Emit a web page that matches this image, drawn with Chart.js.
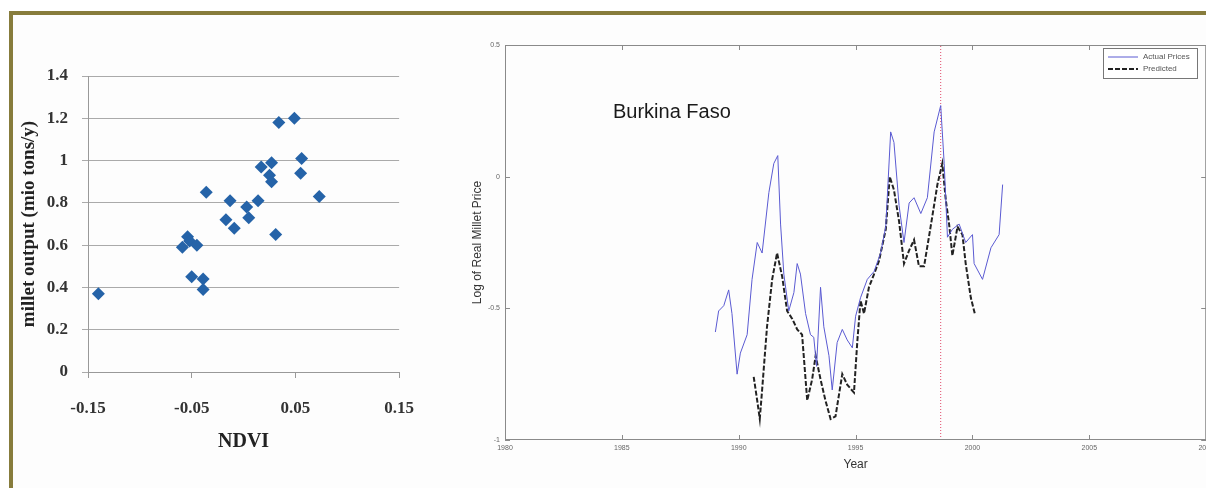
<!DOCTYPE html>
<html>
<head>
<meta charset="utf-8">
<script src="https://cdn.jsdelivr.net/npm/chart.js@4.4.1/dist/chart.umd.min.js"></script>
<style>
  html, body { margin: 0; padding: 0; background: #fff; }
  #page { position: relative; width: 1206px; height: 488px; overflow: hidden; background: #fff; }
  #frame { position: absolute; left: 9px; top: 11px; right: -10px; bottom: -10px;
           border-top: 4px solid #877c3c; border-left: 4px solid #877c3c; background: #fdfdfd; }
  #scatterBox { position: absolute; left: 14px; top: 16px; width: 420px; height: 460px; }
  #priceBox { position: absolute; left: 460px; top: 20px; width: 758px; height: 460px; }
  #country { position: absolute; left: 613px; top: 100px; font: 20px 'Liberation Sans', Arial, sans-serif; color: #1a1a1a; }
</style>
</head>
<body>
<div id="page">
  <div id="frame"></div>
  <div id="scatterBox"><canvas id="scatterChart"></canvas></div>
  <div id="priceBox"><canvas id="priceChart"></canvas></div>
  <div id="country">Burkina Faso</div>
</div>
<script>
// --- scatter: NDVI anomaly vs millet output ---
const ndvi = [-0.140, -0.059, -0.054, -0.052, -0.045, -0.050, -0.039, -0.039, -0.036, -0.017,
              -0.013, -0.009, 0.003, 0.005, 0.014, 0.017, 0.025, 0.027, 0.027, 0.031,
              0.034, 0.049, 0.056, 0.055, 0.073];
const milletOutput = [0.37, 0.59, 0.64, 0.62, 0.60, 0.45, 0.44, 0.39, 0.85, 0.72,
                      0.81, 0.68, 0.78, 0.73, 0.81, 0.97, 0.93, 0.90, 0.99, 0.65,
                      1.18, 1.20, 1.01, 0.94, 0.83];
const ndviTicks = [-0.15, -0.05, 0.05, 0.15];
const outputTicks = [0, 0.2, 0.4, 0.6, 0.8, 1, 1.2, 1.4];

// --- price series (log of real millet price) ---
const actualYears = [1989.0, 1989.14, 1989.36, 1989.57, 1989.71, 1989.93, 1990.07, 1990.36, 1990.57, 1990.79,
                     1991.0, 1991.29, 1991.5, 1991.67, 1991.79, 1991.93, 1992.14, 1992.36, 1992.5, 1992.64,
                     1992.86, 1993.07, 1993.21, 1993.33, 1993.5, 1993.64, 1993.86, 1994.0, 1994.21, 1994.43,
                     1994.64, 1994.86, 1995.0, 1995.21, 1995.5, 1995.79, 1996.07, 1996.29, 1996.5, 1996.64,
                     1996.86, 1997.07, 1997.29, 1997.5, 1997.79, 1998.07, 1998.36, 1998.64, 1998.79, 1998.93,
                     1999.14, 1999.43, 1999.71, 2000.0, 2000.07, 2000.43, 2000.79, 2001.14, 2001.29];
const actualPrice = [-0.59, -0.51, -0.49, -0.43, -0.52, -0.75, -0.67, -0.60, -0.39, -0.25,
                     -0.29, -0.06, 0.05, 0.08, -0.18, -0.37, -0.51, -0.44, -0.33, -0.37,
                     -0.52, -0.60, -0.61, -0.72, -0.42, -0.57, -0.68, -0.81, -0.63, -0.58,
                     -0.62, -0.65, -0.53, -0.46, -0.39, -0.36, -0.29, -0.19, 0.17, 0.13,
                     -0.11, -0.25, -0.10, -0.08, -0.14, -0.08, 0.17, 0.27, 0.05, -0.23,
                     -0.20, -0.18, -0.25, -0.22, -0.33, -0.39, -0.27, -0.22, -0.03];
const predictedYears = [1990.64, 1990.79, 1990.9, 1991.0, 1991.21, 1991.43, 1991.64, 1991.86, 1992.07, 1992.29,
                        1992.5, 1992.71, 1992.93, 1993.14, 1993.29, 1993.5, 1993.71, 1993.93, 1994.14, 1994.43,
                        1994.64, 1994.93, 1995.07, 1995.21, 1995.36, 1995.57, 1995.79, 1996.0, 1996.29, 1996.46,
                        1996.64, 1996.86, 1997.07, 1997.29, 1997.5, 1997.71, 1997.93, 1998.21, 1998.5, 1998.71,
                        1998.86, 1999.0, 1999.14, 1999.36, 1999.57, 1999.71, 1999.93, 2000.1];
const predictedPrice = [-0.76, -0.85, -0.92, -0.81, -0.57, -0.39, -0.29, -0.38, -0.51, -0.54,
                        -0.58, -0.60, -0.85, -0.77, -0.68, -0.77, -0.85, -0.92, -0.91, -0.75,
                        -0.79, -0.82, -0.63, -0.47, -0.52, -0.42, -0.37, -0.32, -0.20, 0.00,
                        -0.05, -0.17, -0.33, -0.28, -0.24, -0.34, -0.34, -0.19, -0.03, 0.05,
                        -0.09, -0.18, -0.30, -0.19, -0.22, -0.33, -0.46, -0.52];
const breakYear = 1998.64;
const yearTicks = [1980, 1985, 1990, 1995, 2000, 2005, 2010];
const priceTicks = [-1, -0.5, 0, 0.5];

const serif = "'Liberation Serif', 'Times New Roman', serif";
const sans = "'Liberation Sans', Arial, sans-serif";

// scatter chart
new Chart(document.getElementById('scatterChart'), {
    type: 'scatter',
    data: {
        datasets: [{
            data: ndvi.map((v, i) => ({ x: v, y: milletOutput[i] })),
            pointStyle: 'rectRot',
            pointRadius: 6.5,
            backgroundColor: '#2563a8',
            borderColor: '#2563a8',
            borderWidth: 0
        }]
    },
    options: {
        responsive: true,
        maintainAspectRatio: false,
        animation: false,
        layout: { padding: { top: 60, right: 28, left: 0, bottom: 0 } },
        plugins: { legend: { display: false }, tooltip: { enabled: false } },
        scales: {
            x: {
                type: 'linear',
                min: -0.15, max: 0.15,
                afterBuildTicks: s => { s.ticks = ndviTicks.map(v => ({ value: v })); },
                afterFit: s => { s.height = 104; },
                grid: { drawOnChartArea: false, tickLength: 6, color: '#999' },
                border: { color: '#999' },
                ticks: { padding: 20, color: '#333', font: { family: serif, size: 17, weight: 'bold' },
                         callback: v => v.toFixed(2) },
                title: { display: true, text: 'NDVI', color: '#222',
                         font: { family: serif, size: 20, weight: 'bold' }, padding: { top: 0, bottom: 22 } }
            },
            y: {
                min: 0, max: 1.4,
                afterBuildTicks: s => { s.ticks = outputTicks.map(v => ({ value: v })); },
                afterFit: s => { s.width = 74; },
                grid: { color: '#aaa', tickLength: 6 },
                border: { color: '#999' },
                ticks: { padding: 14, color: '#333', font: { family: serif, size: 17, weight: 'bold' },
                         callback: v => String(v) },
                title: { display: true, text: 'millet output (mio tons/y)', color: '#222',
                         font: { family: serif, size: 19, weight: 'bold' }, padding: { top: 4, bottom: 0 } }
            }
        }
    }
});

// matlab style box, inward ticks and legend for the price chart
const boxPlugin = {
    id: 'boxPlugin',
    afterDraw(chart) {
        const { ctx, chartArea: a, scales } = chart;
        ctx.save();
        ctx.strokeStyle = '#8a8a8a';
        ctx.lineWidth = 1;
        ctx.strokeRect(a.left + 0.5, a.top + 0.5, a.right - a.left - 1, a.bottom - a.top - 1);
        ctx.beginPath();
        yearTicks.forEach(v => {
            const px = Math.round(scales.x.getPixelForValue(v)) + 0.5;
            ctx.moveTo(px, a.bottom); ctx.lineTo(px, a.bottom - 5);
            ctx.moveTo(px, a.top); ctx.lineTo(px, a.top + 5);
        });
        priceTicks.forEach(v => {
            const py = Math.round(scales.y.getPixelForValue(v)) + 0.5;
            ctx.moveTo(a.left, py); ctx.lineTo(a.left + 5, py);
            ctx.moveTo(a.right, py); ctx.lineTo(a.right - 5, py);
        });
        ctx.stroke();

        // legend box
        const lx = a.left + 598, ly = a.top + 3, lw = 94, lh = 30;
        ctx.fillStyle = '#fff';
        ctx.fillRect(lx, ly, lw, lh);
        ctx.strokeStyle = '#777';
        ctx.strokeRect(lx + 0.5, ly + 0.5, lw, lh);
        ctx.font = '8px ' + sans;
        ctx.textBaseline = 'middle';
        chart.data.datasets.slice(0, 2).forEach((ds, i) => {
            const yy = ly + 9 + i * 12;
            ctx.strokeStyle = ds.borderColor;
            ctx.lineWidth = ds.borderWidth;
            ctx.setLineDash(ds.borderDash || []);
            ctx.beginPath();
            ctx.moveTo(lx + 5, yy); ctx.lineTo(lx + 35, yy);
            ctx.stroke();
            ctx.setLineDash([]);
            ctx.fillStyle = '#555';
            ctx.fillText(ds.label, lx + 40, yy);
        });
        ctx.restore();
    }
};

new Chart(document.getElementById('priceChart'), {
    type: 'line',
    data: {
        datasets: [{
            label: 'Actual Prices',
            data: actualYears.map((v, i) => ({ x: v, y: actualPrice[i] })),
            borderColor: '#5a5ad2',
            borderWidth: 1,
            pointRadius: 0,
            tension: 0
        }, {
            label: 'Predicted',
            data: predictedYears.map((v, i) => ({ x: v, y: predictedPrice[i] })),
            borderColor: '#222',
            borderWidth: 2,
            borderDash: [5, 2],
            pointRadius: 0,
            tension: 0
        }, {
            label: 'break',
            data: [{ x: breakYear, y: -1 }, { x: breakYear, y: 0.5 }],
            borderColor: '#e04a6a',
            borderWidth: 1,
            borderDash: [1, 2],
            pointRadius: 0
        }]
    },
    options: {
        responsive: true,
        maintainAspectRatio: false,
        animation: false,
        layout: { padding: { top: 25, right: 0, left: 0, bottom: 0 } },
        plugins: { legend: { display: false }, tooltip: { enabled: false } },
        scales: {
            x: {
                type: 'linear',
                min: 1980, max: 2010,
                afterBuildTicks: s => { s.ticks = yearTicks.map(v => ({ value: v })); },
                afterFit: s => { s.height = 40; },
                grid: { display: false, drawTicks: false },
                border: { display: false },
                ticks: { padding: 4, color: '#666', font: { family: sans, size: 7 }, callback: v => String(v) },
                title: { display: true, text: 'Year', color: '#333',
                         font: { family: sans, size: 12 }, padding: { top: 0, bottom: 8 } }
            },
            y: {
                min: -1, max: 0.5,
                afterBuildTicks: s => { s.ticks = priceTicks.map(v => ({ value: v })); },
                afterFit: s => { s.width = 45; },
                grid: { display: false, drawTicks: false },
                border: { display: false },
                ticks: { padding: 5, color: '#666', font: { family: sans, size: 7 }, callback: v => String(v) },
                title: { display: true, text: 'Log of Real Millet Price', color: '#333',
                         font: { family: sans, size: 12 }, padding: { top: 10, bottom: 0 } }
            }
        }
    },
    plugins: [boxPlugin]
});
</script>
</body>
</html>
